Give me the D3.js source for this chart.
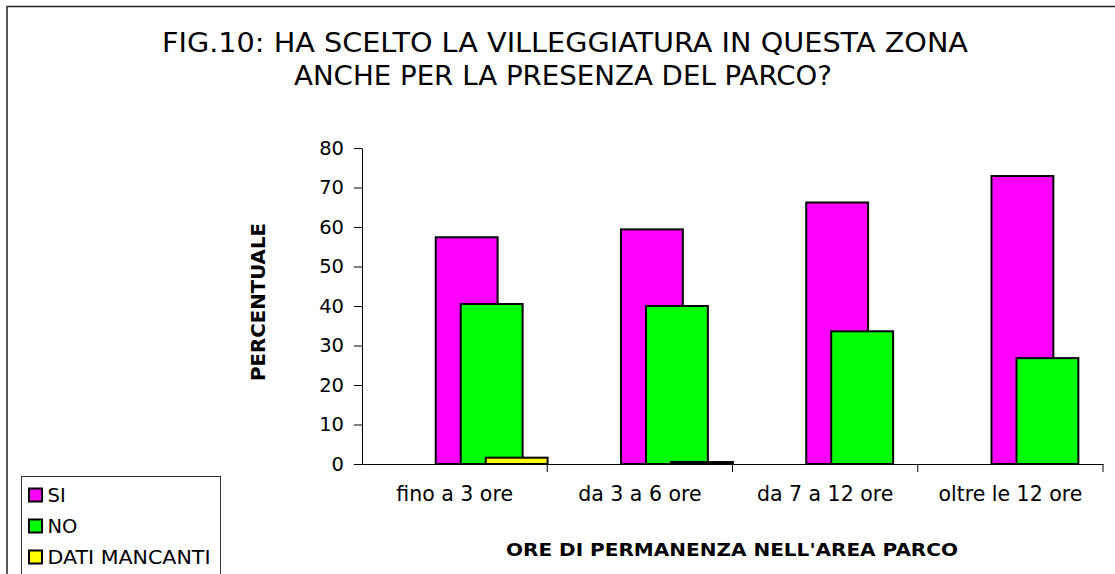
<!DOCTYPE html>
<html>
<head>
<meta charset="utf-8">
<script src="https://cdn.jsdelivr.net/npm/d3@7"></script>
<style>
    body { margin: 0; background: #fff; }
    svg { display: block; font-family: "DejaVu Sans", Verdana, sans-serif; }
</style>
</head>
<body>
<div id="chart"></div>
<script>
// values
const categories = ["fino a 3 ore", "da 3 a 6 ore", "da 7 a 12 ore", "oltre le 12 ore"];
const seriesNames = ["SI", "NO", "DATI MANCANTI"];
const siValues = [57.4, 59.4, 66.2, 72.9];
const noValues = [40.5, 40.0, 33.6, 26.8];
const mancantiValues = [1.6, 0.5, 0, 0];
const yTicks = [0, 10, 20, 30, 40, 50, 60, 70, 80];
const titleLines = [
    "FIG.10: HA SCELTO LA VILLEGGIATURA IN QUESTA ZONA",
    "ANCHE PER LA PRESENZA DEL PARCO?"
];

const colors = ["#ff00ff", "#00ff00", "#ffff00"];
const allSeries = [siValues, noValues, mancantiValues];

const width = 1115;
const height = 574;
const plot = { left: 362, right: 1103, top: 148, bottom: 464 };

const svg = d3.select("#chart").append("svg")
    .attr("width", width)
    .attr("height", height);

// outer chart frame (runs off the right and bottom)
svg.append("rect")
    .attr("x", 7).attr("y", 6.5)
    .attr("width", 1200).attr("height", 700)
    .attr("fill", "none")
    .attr("stroke", "#222")
    .attr("stroke-width", 1.5);

// title
const titleLen = [806, 538];
svg.selectAll(".title")
    .data(titleLines)
    .join("text")
    .attr("class", "title")
    .attr("x", (d, i) => i === 0 ? 565 : 563)
    .attr("y", (d, i) => 52 + i * 33)
    .attr("text-anchor", "middle")
    .attr("textLength", (d, i) => titleLen[i])
    .attr("lengthAdjust", "spacingAndGlyphs")
    .style("font-size", "26px")
    .attr("fill", "#000")
    .text(d => d);

const x = d3.scaleBand()
    .domain(categories)
    .range([plot.left, plot.right])
    .padding(0);

const y = d3.scaleLinear()
    .domain([0, 80])
    .range([plot.bottom, plot.top]);

// excel-style overlapping bars
const bw = x.bandwidth();
const barWidth = bw * 0.334;
const barStart = bw * 0.398;
const barStep = bw * 0.135;

const barData = [];
allSeries.forEach((vals, s) => {
    vals.forEach((v, i) => {
        barData.push({ s, cat: categories[i], value: v });
    });
});

svg.append("g")
    .selectAll("rect")
    .data(barData.filter(d => d.value > 0))
    .join("rect")
    .attr("x", d => x(d.cat) + barStart + d.s * barStep)
    .attr("y", d => y(d.value))
    .attr("width", barWidth)
    .attr("height", d => y(0) - y(d.value))
    .attr("fill", d => colors[d.s])
    .attr("stroke", "#000")
    .attr("stroke-width", 2);

// y axis
const yAxis = svg.append("g")
    .attr("transform", `translate(${plot.left},0)`)
    .call(d3.axisLeft(y).tickValues(yTicks).tickSize(8).tickPadding(10).tickSizeOuter(0));
yAxis.select(".domain").attr("stroke", "#000");
yAxis.selectAll(".tick line").attr("stroke", "#000");
yAxis.selectAll(".tick text")
    .style("font-size", "19.5px")
    .style("font-family", "'DejaVu Sans', sans-serif")
    .attr("fill", "#000");

// x axis
const xAxis = svg.append("g")
    .attr("transform", `translate(0,${plot.bottom})`)
    .call(d3.axisBottom(x).tickSize(0).tickPadding(22).tickSizeOuter(0));
xAxis.select(".domain").attr("stroke", "#000");
xAxis.selectAll(".tick text")
    .style("font-size", "20.5px")
    .style("font-family", "'DejaVu Sans', sans-serif")
    .attr("fill", "#000");

// category dividers below the axis
svg.append("g")
    .selectAll("line")
    .data(categories.slice(1).concat(["end"]))
    .join("line")
    .attr("x1", d => d === "end" ? plot.right : x(d))
    .attr("x2", d => d === "end" ? plot.right : x(d))
    .attr("y1", plot.bottom)
    .attr("y2", plot.bottom + 8)
    .attr("stroke", "#000");

// axis titles
svg.append("text")
    .attr("x", 732)
    .attr("y", 556)
    .attr("text-anchor", "middle")
    .attr("textLength", 452)
    .attr("lengthAdjust", "spacingAndGlyphs")
    .style("font-size", "18px")
    .style("font-weight", "bold")
    .text("ORE DI PERMANENZA NELL'AREA PARCO");

svg.append("text")
    .attr("transform", "translate(264.5,302) rotate(-90)")
    .attr("text-anchor", "middle")
    .attr("textLength", 158)
    .attr("lengthAdjust", "spacingAndGlyphs")
    .style("font-size", "19px")
    .style("font-weight", "bold")
    .text("PERCENTUALE");

// legend
const legend = svg.append("g").attr("transform", "translate(21.5,476.5)");
legend.append("rect")
    .attr("width", 199)
    .attr("height", 98)
    .attr("fill", "#fff")
    .attr("stroke", "#333")
    .attr("stroke-width", 1);

const item = legend.selectAll(".item")
    .data(seriesNames)
    .join("g")
    .attr("class", "item")
    .attr("transform", (d, i) => `translate(0,${18.5 + i * 31})`);

item.append("rect")
    .attr("x", 7.5).attr("y", -6.5)
    .attr("width", 13).attr("height", 13)
    .attr("fill", (d, i) => colors[i])
    .attr("stroke", "#000")
    .attr("stroke-width", 2);

item.append("text")
    .attr("x", 26)
    .attr("y", 7)
    .attr("textLength", d => d === "DATI MANCANTI" ? 163 : null)
    .attr("lengthAdjust", "spacingAndGlyphs")
    .style("font-size", "19.5px")
    .text(d => d);
</script>
</body>
</html>
